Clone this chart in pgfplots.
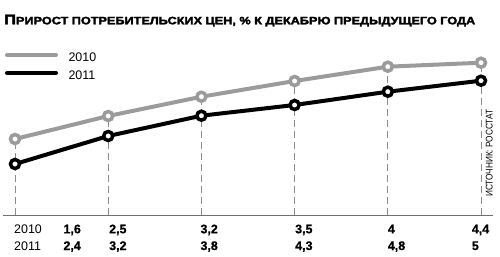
\documentclass[border=0pt]{standalone}
\usepackage{pgfplots}
\pgfplotsset{compat=1.18}
\usepackage{fontspec}
\setmainfont{Liberation Sans}
\newfontfamily\heavy{Liberation Sans}[BoldFeatures={FakeBold=2.5}]
\newfontfamily\semibold{Liberation Sans}[BoldFeatures={FakeBold=0.6}]
\definecolor{cgray}{RGB}{155,155,155}
\definecolor{cdash}{RGB}{140,140,140}
\definecolor{cbase}{RGB}{110,110,110}
\newsavebox\titlebox
\newsavebox\srcbox
\pgfplotstableread{
x y
0 76
1 99
2 118.3
3 134
4 148.3
5 152.3
}\pos
\pgfplotstableread{
x y
0 51
1 79
2 99.3
3 110
4 123.3
5 134.3
}\posb
\begin{document}
\sbox\titlebox{\heavy\bfseries\fontsize{14}{14}\selectfont П\fontsize{10.8}{10.8}\selectfont РИРОСТ ПОТРЕБИТЕЛЬСКИХ ЦЕН, \% К ДЕКАБРЮ ПРЕДЫДУЩЕГО ГОДА}%
\sbox\srcbox{\fontsize{9.8}{9.8}\selectfont ИСТОЧНИК: РОССТАТ}%
\pgfmathsetmacro\tsx{472.77/\wd\titlebox}%
\pgfmathsetmacro\ssx{87.6/\wd\srcbox}%
\begin{tikzpicture}[x=1bp,y=1bp]
\useasboundingbox (0,0) rectangle (500,256);
\node[anchor=base west, inner sep=0] at (4,231.7) {\scalebox{\tsx}[1]{\usebox\titlebox}};
\node[anchor=base west, inner sep=0, rotate=90] at (492.5,59) {\scalebox{\ssx}[1]{\usebox\srcbox}};
\begin{axis}[at={(0,0)}, anchor=south west, width=500bp, height=256bp, scale only axis,
  xmin=-0.16094, xmax=5.20386, ymin=-41, ymax=215, hide axis, clip=false]
\addplot[ycomb, draw=cdash, line width=0.9bp, dash pattern=on 7bp off 4bp, no markers] table {\pos};
\addplot[draw=cbase, line width=1bp, no markers] coordinates {(-0.129,0) (5.129,0)};
\addplot[line width=4bp, color=cgray, mark=*, mark size=4.5bp, mark options={fill=white, draw=cgray, line width=3.5bp}] table {\pos};
\addplot[line width=4bp, color=black, mark=*, mark size=4.5bp, mark options={fill=white, draw=black, line width=3.5bp}] table {\posb};
\end{axis}
\draw[line width=4bp, cgray, line cap=round] (7,201) -- (56,201);
\draw[line width=4bp, black, line cap=round] (7,183) -- (56,183);
\node[anchor=base west, inner sep=0, font=\fontsize{12.5}{12.5}\selectfont] at (68.3,194.3) {2010};
\node[anchor=base west, inner sep=0, font=\fontsize{12.5}{12.5}\selectfont] at (68.3,177) {2011};
\begin{scope}[every node/.style={anchor=base west, inner sep=0, font=\fontsize{12.5}{12.5}\selectfont}]
\node at (14,22.7) {2010};
\node at (14,6) {2011};
\end{scope}
\begin{scope}[every node/.style={anchor=base west, inner sep=0, font=\semibold\bfseries\fontsize{12.5}{12.5}\selectfont}]
\node at (63.3,22.7) {1,6};
\node at (109,22.7) {2,5};
\node at (200.3,22.7) {3,2};
\node at (295,22.7) {3,5};
\node at (387.7,22.7) {4};
\node at (471.7,22.7) {4,4};
\node at (63.3,6) {2,4};
\node at (109,6) {3,2};
\node at (200.3,6) {3,8};
\node at (295,6) {4,3};
\node at (387.7,6) {4,8};
\node at (471.7,6) {5};
\end{scope}
\end{tikzpicture}
\end{document}
